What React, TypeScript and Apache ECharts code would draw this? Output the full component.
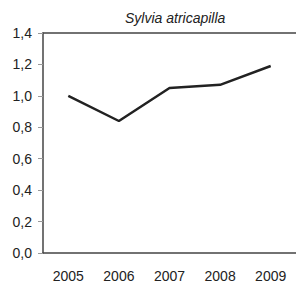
import React, { useEffect, useRef } from "react";
import * as echarts from "echarts";

const years = ["2005", "2006", "2007", "2008", "2009"];
const values = [1.0, 0.84, 1.05, 1.07, 1.19];
const titleText = "Sylvia atricapilla";

export default function App() {
  const ref = useRef<HTMLDivElement>(null);
  useEffect(() => {
    if (!ref.current) return;
    const chart = echarts.init(ref.current, null, { renderer: "svg" });
    chart.setOption({
      animation: false,
      title: {
        text: titleText,
        left: 120,
        top: 6,
        textStyle: {
          fontFamily: "Liberation Sans",
          fontStyle: "italic",
          fontWeight: "normal",
          fontSize: 14,
          color: "#222",
        },
      },
      grid: { left: 43, right: -3, top: 33, bottom: 31 },
      xAxis: [
        {
          type: "category",
          data: years,
          boundaryGap: true,
          axisLine: { lineStyle: { color: "#444", width: 1.5 } },
          axisTick: { show: false },
          axisLabel: {
            margin: 16,
            fontFamily: "Liberation Sans",
            fontSize: 14,
            color: "#222",
          },
          splitLine: { show: false },
        },
        {
          type: "category",
          data: years,
          position: "top",
          axisLine: { lineStyle: { color: "#444", width: 1.5 } },
          axisTick: { show: false },
          axisLabel: { show: false },
          splitLine: { show: false },
        },
      ],
      yAxis: {
        type: "value",
        min: 0,
        max: 1.4,
        interval: 0.2,
        axisLine: { show: true, lineStyle: { color: "#444", width: 1.5 } },
        axisTick: { show: true, length: 5, lineStyle: { color: "#999" } },
        axisLabel: {
          margin: 11,
          fontFamily: "Liberation Sans",
          fontSize: 14,
          color: "#222",
          formatter: (v: number) => v.toFixed(1).replace(".", ","),
        },
        splitLine: { show: false },
      },
      series: [
        {
          type: "line",
          data: values,
          symbol: "none",
          lineStyle: { color: "#222", width: 2.5 },
        },
      ],
    });
    return () => chart.dispose();
  }, []);
  return (
    <div
      ref={ref}
      style={{ position: "absolute", left: 0, top: 0, width: 296, height: 284, overflow: "hidden" }}
    />
  );
}
